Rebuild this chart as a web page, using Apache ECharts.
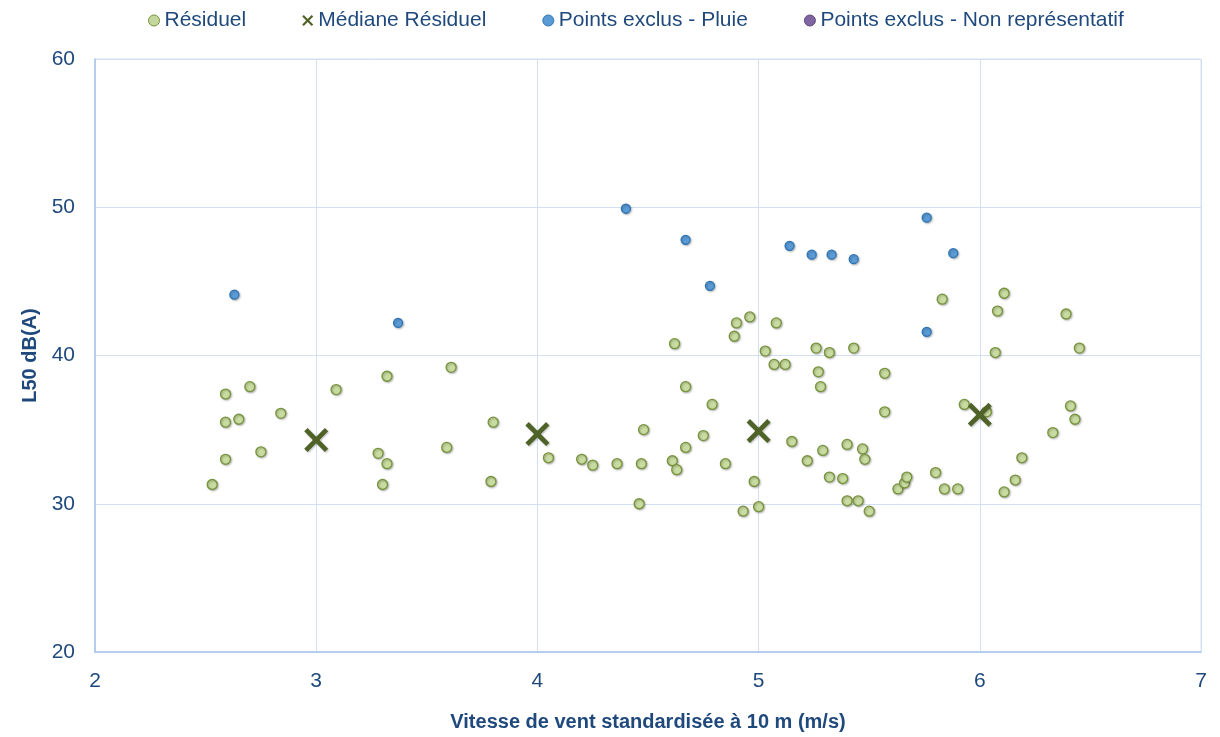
<!DOCTYPE html>
<html>
<head>
<meta charset="utf-8">
<script src="https://cdn.jsdelivr.net/npm/echarts@6/dist/echarts.min.js"></script>
<style>
html,body{margin:0;padding:0;background:#fff;}
#chart{width:1220px;height:737px;}
</style>
</head>
<body>
<div id="chart"></div>
<script>
// ---- data ----
const seriesNames = ['Résiduel', 'Médiane Résiduel', 'Points exclus - Pluie', 'Points exclus - Non représentatif'];
const residuel = [
  [2.53,31.3],[2.59,33.0],[2.59,35.5],[2.59,37.4],[2.65,35.7],[2.70,37.9],[2.75,33.5],[2.84,36.1],
  [3.09,37.7],[3.28,33.4],[3.30,31.3],[3.32,32.7],[3.32,38.6],[3.59,33.8],[3.61,39.2],[3.79,31.5],[3.80,35.5],
  [4.05,33.1],[4.20,33.0],[4.25,32.6],[4.36,32.7],[4.46,30.0],[4.47,32.7],[4.48,35.0],[4.61,32.9],[4.62,40.8],
  [4.63,32.3],[4.67,33.8],[4.67,37.9],[4.75,34.6],[4.79,36.7],[4.85,32.7],[4.89,41.3],[4.90,42.2],[4.93,29.5],
  [4.96,42.6],[4.98,31.5],[5.00,29.8],[5.03,40.3],[5.07,39.4],[5.08,42.2],[5.12,39.4],[5.15,34.2],[5.22,32.9],
  [5.26,40.5],[5.27,38.9],[5.28,37.9],[5.29,33.6],[5.32,31.8],[5.32,40.2],[5.38,31.7],[5.40,30.2],[5.40,34.0],
  [5.43,40.5],[5.45,30.2],[5.47,33.7],[5.48,33.0],[5.50,29.5],[5.57,38.8],[5.57,36.2],[5.63,31.0],[5.66,31.4],
  [5.67,31.8],[5.80,32.1],[5.83,43.8],[5.84,31.0],[5.90,31.0],[5.93,36.7],[6.03,36.2],[6.07,40.2],[6.08,43.0],
  [6.11,44.2],[6.11,30.8],[6.16,31.6],[6.19,33.1],[6.33,34.8],[6.39,42.8],[6.41,36.6],[6.43,35.7],[6.45,40.5]
];
const medianeResiduel = [[3,34.3],[4,34.7],[5,34.9],[6,36.0]];
const pluie = [
  [2.63,44.1],[3.37,42.2],[4.40,49.9],[4.67,47.8],[4.78,44.7],[5.14,47.4],[5.24,46.8],[5.33,46.8],
  [5.43,46.5],[5.76,49.3],[5.88,46.9],[5.76,41.6]
];
const nonRepresentatif = [];
const xTicks = {min: 2, max: 7, interval: 1};
const yTicks = {min: 20, max: 60, interval: 10};
const xTitle = 'Vitesse de vent standardisée à 10 m (m/s)';
const yTitle = 'L50 dB(A)';

// ---- chart ----
const FONT = '"Liberation Sans", Arimo, sans-serif';
const TXT = '#1F497D';
const GRID = '#D3E0F3';
const AXIS = '#A9C4EA';
const X_PATH = 'path://M0,1.4 L1.4,0 L5,3.6 L8.6,0 L10,1.4 L6.4,5 L10,8.6 L8.6,10 L5,6.4 L1.4,10 L0,8.6 L3.6,5 Z';
const shadow = {shadowBlur: 2, shadowColor: 'rgba(0,0,0,0.25)', shadowOffsetX: 1, shadowOffsetY: 1};

const chart = echarts.init(document.getElementById('chart'), null, {renderer: 'canvas'});
chart.setOption({
  animation: false,
  backgroundColor: '#fff',
  textStyle: {fontFamily: FONT},
  legend: {
    top: 5, left: 143,
    itemGap: 56, itemWidth: 11, itemHeight: 11,
    textStyle: {fontFamily: FONT, fontSize: 21, color: TXT},
    data: [
      {name: seriesNames[0], icon: 'circle', itemStyle: {color: '#C3D69B', borderColor: '#77933C', borderWidth: 1, opacity: 1}},
      {name: seriesNames[1], icon: X_PATH, itemStyle: {color: '#4F6228', opacity: 1}},
      {name: seriesNames[2], icon: 'circle', itemStyle: {color: '#5B9BD5', borderColor: '#2E75B6', borderWidth: 1, opacity: 1}},
      {name: seriesNames[3], icon: 'circle', itemStyle: {color: '#8064A2', borderColor: '#5F497A', borderWidth: 1, opacity: 1}}
    ]
  },
  grid: {left: 95, right: 19, top: 59, bottom: 83, containLabel: false,
         show: true, borderColor: GRID, borderWidth: 1},
  xAxis: {
    type: 'value', min: xTicks.min, max: xTicks.max, interval: xTicks.interval,
    name: xTitle, nameLocation: 'middle', nameGap: 60,
    nameTextStyle: {fontFamily: FONT, fontSize: 20, fontWeight: 'bold', color: TXT},
    axisLine: {show: true, lineStyle: {color: AXIS, width: 1.5}},
    axisTick: {show: false},
    axisLabel: {fontFamily: FONT, fontSize: 21, color: TXT, margin: 19},
    splitLine: {show: true, lineStyle: {color: GRID, width: 1}}
  },
  yAxis: {
    type: 'value', min: yTicks.min, max: yTicks.max, interval: yTicks.interval,
    name: yTitle, nameLocation: 'middle', nameGap: 55,
    nameTextStyle: {fontFamily: FONT, fontSize: 20, fontWeight: 'bold', color: TXT},
    axisLine: {show: true, lineStyle: {color: AXIS, width: 1.5}},
    axisTick: {show: false},
    axisLabel: {fontFamily: FONT, fontSize: 21, color: TXT, margin: 20},
    splitLine: {show: true, lineStyle: {color: GRID, width: 1}}
  },
  series: [
    {name: seriesNames[0], type: 'scatter', data: residuel, symbol: 'circle', symbolSize: 10, z: 3,
     itemStyle: Object.assign({color: '#C8DBA0', borderColor: '#77933C', borderWidth: 1.3, opacity: 1}, shadow)},
    {name: seriesNames[1], type: 'scatter', data: medianeResiduel, symbol: X_PATH, symbolSize: 24, z: 4,
     itemStyle: Object.assign({color: '#4F6228', opacity: 1}, shadow)},
    {name: seriesNames[2], type: 'scatter', data: pluie, symbol: 'circle', symbolSize: 9, z: 3,
     itemStyle: Object.assign({color: '#5B9BD5', borderColor: '#2E75B6', borderWidth: 1.3, opacity: 1}, shadow)},
    {name: seriesNames[3], type: 'scatter', data: nonRepresentatif, symbol: 'circle', symbolSize: 9, z: 3,
     itemStyle: {color: '#8064A2', borderColor: '#5F497A', borderWidth: 1.3, opacity: 1}}
  ]
});
</script>
</body>
</html>
